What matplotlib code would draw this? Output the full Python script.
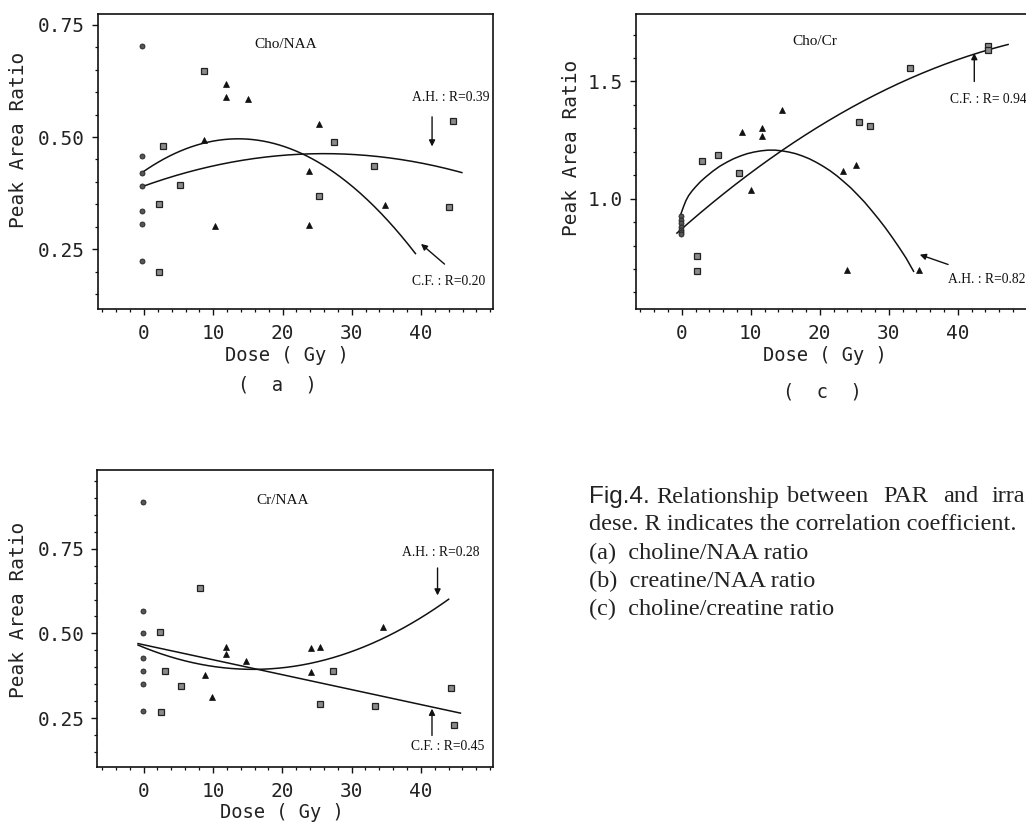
import numpy as np
import matplotlib
matplotlib.use('Agg')
import matplotlib.pyplot as plt
from matplotlib.ticker import FixedLocator, MultipleLocator, FormatStrFormatter

# ---------------- data ----------------
# (a) Cho/NAA
a_circle_x = [-0.3, -0.3, -0.3, -0.3, -0.3, -0.3, -0.3]
a_circle_y = [0.703, 0.458, 0.421, 0.391, 0.336, 0.306, 0.224]
a_square_x = [8.6, 2.8, 5.2, 2.1, 2.2, 27.4, 25.3, 33.2, 44.6, 44.1]
a_square_y = [0.646, 0.479, 0.394, 0.350, 0.200, 0.489, 0.368, 0.436, 0.536, 0.345]
a_tri_x = [8.6, 11.9, 11.9, 15.0, 10.3, 25.3, 23.8, 23.8, 34.8]
a_tri_y = [0.494, 0.619, 0.589, 0.585, 0.301, 0.530, 0.424, 0.304, 0.348]
a_ah_coef = [0.391, 0.005538, -0.0001065]   # c0 + c1*x + c2*x^2
a_ah_range = [-0.3, 45.9]
a_cf_coef = [0.4239, 0.010608, -0.00039]
a_cf_range = [-0.3, 39.2]
a_ah_label = "A.H. : R=0.39"
a_cf_label = "C.F. : R=0.20"
a_title = "Cho/NAA"

# (c) Cho/Cr
c_circle_x = [-0.1, -0.1, -0.1, -0.1, -0.1, -0.1, -0.1]
c_circle_y = [0.925, 0.910, 0.895, 0.880, 0.868, 0.857, 0.848]
c_square_x = [2.2, 2.2, 2.9, 5.2, 8.3, 25.7, 27.3, 33.1, 44.4, 44.4]
c_square_y = [0.757, 0.693, 1.161, 1.188, 1.109, 1.327, 1.311, 1.557, 1.650, 1.634]
c_tri_x = [8.8, 10.1, 11.7, 11.7, 14.6, 23.4, 25.2, 24.0, 34.4]
c_tri_y = [1.286, 1.038, 1.300, 1.267, 1.379, 1.118, 1.145, 0.697, 0.697]
# A.H. curve of (c)
c_ah_x = [-0.15, 0.25, 0.6, 1.0, 1.5, 2.0, 2.7, 3.5, 4.5, 5.5, 6.5, 7.5, 8.5, 9.5,
          10.5, 11.5, 12.5, 13.5, 14.5, 15.5, 16.5, 17.5, 18.5, 19.5, 20.5, 21.5,
          22.5, 23.5, 24.5, 25.5, 26.5, 27.5, 28.5, 29.5, 30.5, 31.5, 32.5, 33.6]
c_ah_y = [0.932, 0.965, 0.991, 1.013, 1.033, 1.050, 1.072, 1.093, 1.117, 1.138,
          1.155, 1.170, 1.182, 1.192, 1.199, 1.204, 1.207, 1.207, 1.204, 1.199,
          1.192, 1.182, 1.170, 1.155, 1.138, 1.119, 1.097, 1.072, 1.046, 1.016,
          0.985, 0.950, 0.914, 0.876, 0.835, 0.792, 0.747, 0.690]
c_cf_coef = [0.871, 0.02586, -0.000195]
c_cf_range = [-0.7, 47.3]
c_ah_label = "A.H. : R=0.82"
c_cf_label = "C.F. : R= 0.94"
c_title = "Cho/Cr"

# (b) Cr/NAA
b_circle_x = [-0.1, -0.1, -0.1, -0.1, -0.1, -0.1, -0.1]
b_circle_y = [0.887, 0.565, 0.501, 0.428, 0.390, 0.351, 0.270]
b_square_x = [8.2, 2.4, 3.1, 5.4, 2.5, 27.3, 25.4, 33.4, 44.4, 44.8]
b_square_y = [0.635, 0.504, 0.389, 0.345, 0.267, 0.390, 0.291, 0.286, 0.339, 0.229]
b_tri_x = [11.9, 11.9, 14.8, 8.8, 9.9, 24.1, 25.5, 24.2, 34.5]
b_tri_y = [0.459, 0.438, 0.418, 0.378, 0.311, 0.457, 0.459, 0.385, 0.520]
b_ah_coef = [0.4589, -0.008216, 0.00026]
b_ah_range = [-0.8, 44.0]
b_cf_coef = [0.4665, -0.00441]
b_cf_range = [-0.8, 45.7]
b_ah_label = "A.H. : R=0.28"
b_cf_label = "C.F. : R=0.45"
b_title = "Cr/NAA"

x_ticks = [0, 10, 20, 30, 40]
ab_yticks = [0.25, 0.50, 0.75]
c_yticks = [1.0, 1.5]

caption_words = ["Relationship", "between", "PAR", "and", "irra"]
caption_lines = ["dese. R indicates the correlation coefficient.",
                 "(a)  choline/NAA ratio",
                 "(b)  creatine/NAA ratio",
                 "(c)  choline/creatine ratio"]

# ---------------- layout ----------------
W, H = 1026, 823
fig = plt.figure(figsize=(W / 100, H / 100), dpi=100)
fig.patch.set_facecolor('white')

MONO = 'DejaVu Sans Mono'
SERIF = 'Liberation Serif'
INK = '#111111'


def fx(x, y):
    return x / W, 1 - y / H


def make_axes(l, t, r, b):
    return fig.add_axes([l / W, 1 - b / H, (r - l) / W, (b - t) / H])


def style_axes(ax, xlim, ylim, yticks, yminor, fmt):
    ax.set_xlim(*xlim)
    ax.set_ylim(*ylim)
    ax.xaxis.set_major_locator(FixedLocator(x_ticks))
    ax.xaxis.set_minor_locator(MultipleLocator(2))
    ax.yaxis.set_major_locator(FixedLocator(yticks))
    ax.yaxis.set_minor_locator(MultipleLocator(yminor))
    ax.yaxis.set_major_formatter(FormatStrFormatter(fmt))
    ax.tick_params(which='major', direction='out', length=4, width=1.0,
                   labelsize=14, pad=5, color=INK, labelcolor='#222')
    ax.tick_params(which='minor', direction='out', length=2.5, width=0.9, color=INK)
    ax.tick_params(axis='x', which='major', pad=7)
    for lab in ax.get_xticklabels() + ax.get_yticklabels():
        lab.set_family(MONO)
    for s in ax.spines.values():
        s.set_linewidth(1.2)
        s.set_color(INK)


def draw_points(ax, cx, cy, sx, sy, tx, ty):
    ax.plot(cx, cy, 'o', ms=3.6, mfc='#555555', mec='#222222', mew=0.6, ls='none', zorder=3)
    ax.plot(sx, sy, 's', ms=4.8, mfc='#8a8a8a', mec='#222222', mew=0.9, ls='none', zorder=3)
    ax.plot(tx, ty, '^', ms=4.6, mfc=INK, mec=INK, mew=0.5, ls='none', zorder=3)


def draw_poly(ax, coef, rng):
    xs = np.linspace(rng[0], rng[1], 200)
    ys = np.polyval(coef[::-1], xs)
    ax.plot(xs, ys, color=INK, lw=1.1, zorder=2)


def arrow(ax, tail, tip):
    ax.annotate('', xy=tip, xytext=tail,
                arrowprops=dict(arrowstyle='-|>', color=INK, lw=1.0,
                                mutation_scale=9, shrinkA=0, shrinkB=0))


def note(ax, x, y, s, size=9.8):
    ax.text(x, y, s, family=SERIF, fontsize=size, ha='center', va='center', color=INK)


# ---- panel (a)
axA = make_axes(97.5, 14, 493, 309)
style_axes(axA, (-6.72, 50.4), (0.117, 0.774), ab_yticks, 0.05, '%.2f')
draw_points(axA, a_circle_x, a_circle_y, a_square_x, a_square_y, a_tri_x, a_tri_y)
draw_poly(axA, a_ah_coef, a_ah_range)
draw_poly(axA, a_cf_coef, a_cf_range)
note(axA, 20.5, 0.705, a_title, 11)
note(axA, 44.3, 0.589, a_ah_label)
note(axA, 44.0, 0.178, a_cf_label)
arrow(axA, (41.6, 0.545), (41.6, 0.479))
arrow(axA, (43.4, 0.217), (40.0, 0.262))

# ---- panel (c)
axC = make_axes(635.7, 14, 1029.5, 309)
style_axes(axC, (-6.67, 50.4), (0.529, 1.788), c_yticks, 0.1, '%.1f')
draw_points(axC, c_circle_x, c_circle_y, c_square_x, c_square_y, c_tri_x, c_tri_y)
axC.plot(c_ah_x, c_ah_y, color=INK, lw=1.1, zorder=2)
draw_poly(axC, c_cf_coef, c_cf_range)
note(axC, 19.3, 1.67, c_title, 11)
note(axC, 44.4, 1.422, c_cf_label)
note(axC, 44.2, 0.655, c_ah_label)
arrow(axC, (42.4, 1.50), (42.4, 1.621))
arrow(axC, (38.6, 0.719), (34.5, 0.761))

# ---- panel (b)
axB = make_axes(97, 470, 493, 767)
style_axes(axB, (-6.72, 50.4), (0.106, 0.982), ab_yticks, 0.05, '%.2f')
draw_points(axB, b_circle_x, b_circle_y, b_square_x, b_square_y, b_tri_x, b_tri_y)
draw_poly(axB, b_ah_coef, b_ah_range)
draw_poly(axB, b_cf_coef, b_cf_range)
note(axB, 20.1, 0.892, b_title, 11)
note(axB, 42.9, 0.740, b_ah_label)
note(axB, 43.9, 0.165, b_cf_label)
arrow(axB, (42.4, 0.693), (42.4, 0.612))
arrow(axB, (41.6, 0.199), (41.6, 0.278))

# ---- axis labels (monospace plotter style)
def ftext(x, y, s, **kw):
    fig.text(*fx(x, y), s, **kw)

lab_kw = dict(family=MONO, color='#222', ha='center', va='center')
ftext(18.3, 140, "Peak Area Ratio", fontsize=14, rotation=90, **lab_kw)
ftext(287, 356, "Dose ( Gy )", fontsize=13.5, **lab_kw)
ftext(277, 385, "(  a  )", fontsize=13.5, **lab_kw)

ftext(571.7, 148, "Peak Area Ratio", fontsize=14, rotation=90, **lab_kw)
ftext(825, 356, "Dose ( Gy )", fontsize=13.5, **lab_kw)
ftext(822, 392, "(  c  )", fontsize=13.5, **lab_kw)

ftext(18.3, 610, "Peak Area Ratio", fontsize=14, rotation=90, **lab_kw)
ftext(282, 813, "Dose ( Gy )", fontsize=13.5, **lab_kw)

# ---- caption
cap_kw = dict(color='#222', ha='left', va='center', fontsize=17.5)
ftext(589, 497, "Fig.4.", family='Liberation Sans', **cap_kw)
for word, xw in zip(caption_words, [656.7, 786.7, 883.3, 943.3, 991.7]):
    ftext(xw, 497, word, family=SERIF, **cap_kw)
for i, line in enumerate(caption_lines):
    ftext(589, 525 + 28.2 * i, line, family=SERIF, **cap_kw)

fig.savefig('out.png', dpi=100, facecolor='white')
